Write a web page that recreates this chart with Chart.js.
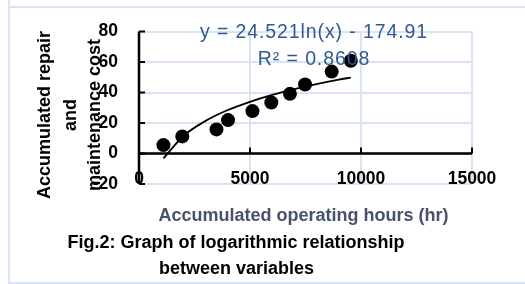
<!DOCTYPE html>
<html>
<head>
<meta charset="utf-8">
<title>Fig.2</title>
<script src="https://cdn.jsdelivr.net/npm/chart.js@4.4.0/dist/chart.umd.min.js"></script>
<style>
  html, body { margin: 0; padding: 0; background: #fff; }
  #wrap { position: relative; width: 525px; height: 284px; overflow: hidden; font-family: "Liberation Sans", Arial, sans-serif; }
  .frame { position: absolute; background: #DAE3F3; }
  canvas { position: absolute; left: 0; top: 0; }
  .txt { position: absolute; white-space: nowrap; line-height: 1; font-weight: bold; font-size: 18px; color: #000; }
  .eq { font-weight: normal; font-size: 19.5px; letter-spacing: 0.9px; color: #2F5A92; transform: translateX(-50%); }
  .ytitle { transform: translate(-50%, -50%) rotate(-90deg); }
  .center { transform: translateX(-50%); }
</style>
</head>
<body>
<div id="wrap">
  <div class="frame" style="left:8px; top:0; width:2px; height:284px;"></div>
  <div class="frame" style="left:10px; top:6px; width:515px; height:2px;"></div>
  <div class="frame" style="left:10px; top:282px; width:515px; height:2px;"></div>
  <canvas id="chart" width="525" height="284"></canvas>

  <div class="txt ytitle" style="left:43.6px; top:115px;">Accumulated repair</div>
  <div class="txt ytitle" style="left:70.3px; top:115px;">and</div>
  <div class="txt ytitle" style="left:93.6px; top:115px;">maintenance cost</div>

  <div class="txt eq" style="left:314px; top:21.5px;">y = 24.521ln(x) - 174.91</div>
  <div class="txt eq" style="left:314px; top:48.8px;">R² = 0.8608</div>

  <div class="txt center" style="left:303.5px; top:205.7px; color:#44546A;">Accumulated operating hours (hr)</div>
  <div class="txt center" style="left:236px; top:232.9px;">Fig.2: Graph of logarithmic relationship</div>
  <div class="txt center" style="left:236.5px; top:259.1px;">between variables</div>
</div>

<script>
// values
const hours = [1100, 1950, 3490, 4010, 5110, 5960, 6800, 7480, 8680, 9540];
const cost = [5.5, 11.2, 15.8, 21.9, 27.8, 33.4, 39.1, 45.2, 53.7, 60.8];

// fitted log curve as drawn
const trendHours = [1100, 2000, 3000, 4000, 5000, 6000, 7000, 8000, 9000, 9540];
const trendCost = [-3.2, 11.5, 21.4, 28.5, 33.9, 38.4, 42.2, 45.5, 48.4, 49.8];

const xTicks = [0, 5000, 10000, 15000];
const yTicks = [-20, 0, 20, 40, 60, 80];

const gridBlue = "#DAE3F3";
const tickFont = { family: "'Liberation Sans', Arial, sans-serif", size: 17.5, weight: "bold" };

// black axis lines crossing at zero, with small inside tick marks
const zeroAxesPlugin = {
  id: "zeroAxes",
  beforeDatasetsDraw(chart) {
    const { ctx, chartArea, scales } = chart;
    const x0 = scales.x.getPixelForValue(0);
    const y0 = scales.y.getPixelForValue(0);

    ctx.save();
    ctx.strokeStyle = "#000";
    ctx.lineWidth = 2.5;
    ctx.beginPath();
    ctx.moveTo(x0, chartArea.top);
    ctx.lineTo(x0, chartArea.bottom);
    ctx.moveTo(chartArea.left, y0);
    ctx.lineTo(chartArea.right, y0);
    ctx.stroke();

    ctx.lineWidth = 2;
    ctx.beginPath();
    yTicks.forEach((v) => {
      const y = scales.y.getPixelForValue(v);
      ctx.moveTo(x0, y);
      ctx.lineTo(x0 + 6, y);
    });
    xTicks.forEach((v) => {
      const x = scales.x.getPixelForValue(v);
      ctx.moveTo(x, y0);
      ctx.lineTo(x, y0 - 6);
    });
    ctx.stroke();
    ctx.restore();
  }
};

new Chart(document.getElementById("chart"), {
  type: "scatter",
  data: {
    datasets: [
      {
        label: "Log trend",
        data: trendHours.map((h, i) => ({ x: h, y: trendCost[i] })),
        showLine: true,
        borderColor: "#000",
        borderWidth: 1.8,
        pointRadius: 0,
        cubicInterpolationMode: "monotone",
        order: 0
      },
      {
        label: "Cost",
        data: hours.map((h, i) => ({ x: h, y: cost[i] })),
        backgroundColor: "#000",
        borderColor: "#000",
        borderWidth: 0,
        pointRadius: 7,
        order: 1
      }
    ]
  },
  options: {
    responsive: false,
    animation: false,
    layout: { padding: { left: 0, right: 53, top: 20, bottom: 0 } },
    plugins: {
      legend: { display: false },
      tooltip: { enabled: false }
    },
    scales: {
      x: {
        type: "linear",
        min: 0,
        max: 15000,
        afterBuildTicks(scale) {
          scale.ticks = xTicks.map((v) => ({ value: v }));
        },
        afterFit(scale) {
          scale.height = 100;
        },
        ticks: {
          color: "#000",
          font: tickFont,
          // mirrored so the labels may sit over the -20 gridline like the original
          mirror: true,
          padding: -5.5,
          maxRotation: 0,
          callback: (v) => String(v)
        },
        grid: { color: gridBlue, lineWidth: 2, drawTicks: false },
        border: { display: false }
      },
      y: {
        min: -20,
        max: 80,
        afterBuildTicks(scale) {
          scale.ticks = yTicks.map((v) => ({ value: v }));
        },
        afterFit(scale) {
          scale.width = 139;
        },
        ticks: {
          color: "#000",
          font: tickFont,
          padding: 21,
          callback: (v) => String(v)
        },
        grid: { color: gridBlue, lineWidth: 2, drawTicks: false },
        border: { display: false }
      }
    }
  },
  plugins: [zeroAxesPlugin]
});
</script>
</body>
</html>
